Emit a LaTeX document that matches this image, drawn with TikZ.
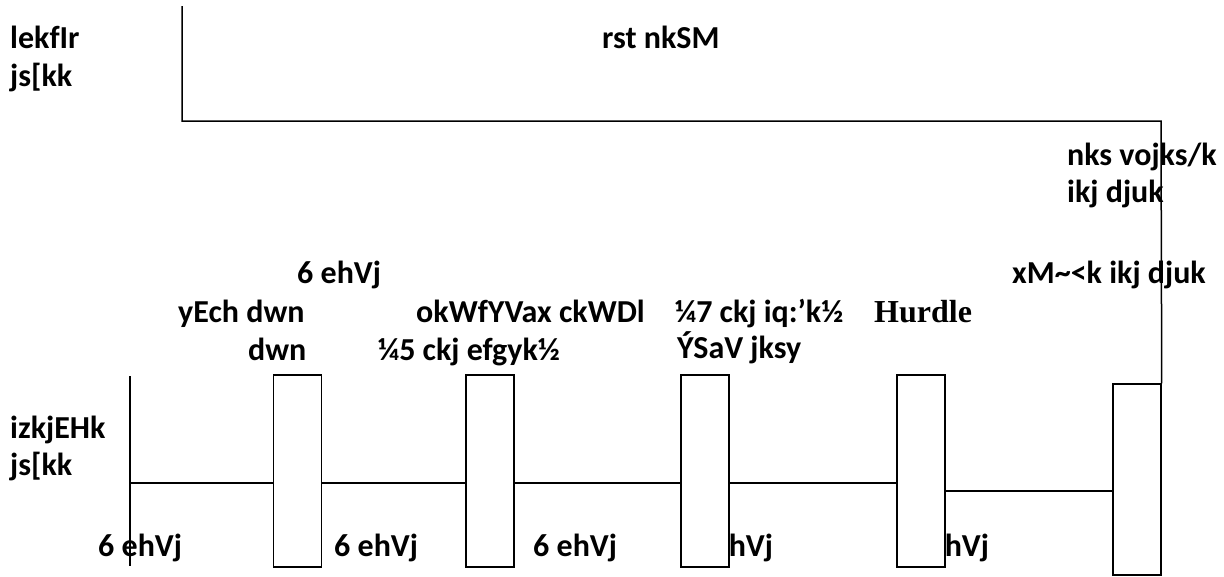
\documentclass[tikz,border=0pt]{standalone}
\usepackage{fontspec}
\setmainfont{Carlito}
\newfontfamily\hurdlefont{Liberation Serif}
\begin{document}
\begin{tikzpicture}[x=1pt,y=-1pt,
  lbl/.style={anchor=base west,inner sep=0pt,font=\fontsize{32}{38}\selectfont\bfseries},
  box/.style={draw,fill=white,line width=1.4pt,inner sep=0pt,minimum width=48pt,minimum height=192pt},
  ln/.style={line width=1.5pt}]
\useasboundingbox (0,0) rectangle (1224,576);
% texts
\node[lbl] (t1) at (10,48) {lekfIr};
\node[lbl] (t2) at (10,86) {js[kk};
\node[lbl] (t3) at (602,48) {rst nkSM};
\node[lbl] (t4) at (1067,165) {nks vojks/k};
\node[lbl] (t5) at (1067,202) {ikj djuk};
\node[lbl] (t6) at (1012,283) {xM\~{}<k ikj djuk};
\node[lbl] (t7) at (297,283) {6 ehVj};
\node[lbl] (t8) at (178,322) {yEch dwn};
\node[lbl] (t9) at (248,360) {dwn};
\node[lbl] (t10) at (416,322) {okWfYVax ckWDl};
\node[lbl] (t11) at (378,360) {¼5 ckj efgyk½};
\node[lbl] (t12) at (675,322) {¼7 ckj iq:’k½};
\node[lbl] (t13) at (677,358) {ÝSaV jksy};
\node[lbl,font=\fontsize{32}{38}\selectfont\bfseries\hurdlefont] (t14) at (874,322) {Hurdle};
\node[lbl] (t15) at (10,438) {izkjEHk};
\node[lbl] (t16) at (10,475) {js[kk};
\node[lbl] (t17) at (98,556) {6 ehVj};
\node[lbl] (t18) at (334,556) {6 ehVj};
\node[lbl] (t19) at (533,556) {6 ehVj};
\node[lbl] (t20) at (689,556) {6 ehVj};
\node[lbl] (t21) at (905,556) {6 ehVj};
% boxes
\node[box] (b1) at (297.5,471) {};
\node[box] (b2) at (490,471) {};
\node[box] (b3) at (705,471) {};
\node[box] (b4) at (921,471) {};
\node[box,minimum height=191pt] (b5) at (1137,479.5) {};
% lines
\coordinate (s0) at (130,376);
\coordinate (s1) at (130,566);
\coordinate (s2) at (130,483);
\coordinate (tl) at (182,6);
\coordinate (tc) at (182,121);
\coordinate (tr) at (1161,121);
\draw[ln] (s0) -- (s1);
\draw[ln] (s2) -- (b1.west |- s2);
\draw[ln] (b1.east |- s2) -- (b2.west |- s2);
\draw[ln] (b2.east |- s2) -- (b3.west |- s2);
\draw[ln] (b3.east |- s2) -- (b4.west |- s2);
\draw[ln] (b4.east |- 0,491) -- (b5.west |- 0,491);
\draw[ln] (tl) -- (tc) -- (tr) -- (b5.north east);
\end{tikzpicture}
\end{document}
